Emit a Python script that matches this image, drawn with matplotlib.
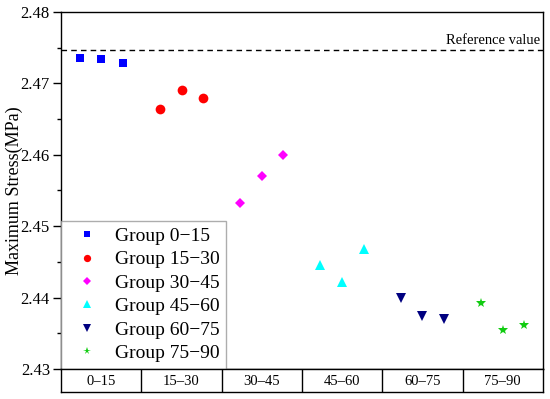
import numpy as np
import matplotlib.pyplot as plt

plt.rcParams['font.family'] = ['Liberation Serif', 'DejaVu Serif']

categories = ['0\u201315', '15\u201330', '30\u201345', '45\u201360', '60\u201375', '75\u201390']
group_labels = ['Group 0\u221215', 'Group 15\u221230', 'Group 30\u221245',
                'Group 45\u221260', 'Group 60\u221275', 'Group 75\u221290']
stress = [
    [2.4735, 2.4734, 2.4729],
    [2.4664, 2.4691, 2.4680],
    [2.4533, 2.4570, 2.4600],
    [2.4445, 2.4422, 2.4468],
    [2.4399, 2.4374, 2.4370],
    [2.4392, 2.4355, 2.4361],
]
reference_value = 2.4747

markers = ['s', 'o', 'D', '^', 'v', '*']
colors = ['#0000ff', '#ff0000', '#ff00ff', '#00ffff', '#000080', '#11cc11']
msizes = [6, 7, 5.5, 7, 7, 7.5]
offsets = [-0.27, 0.0, 0.27]

fig = plt.figure(figsize=(5.5, 3.99), dpi=100)
ax = fig.add_axes([0.111, 0.0752, 0.876, 0.895])
axb = fig.add_axes([0.111, 0.0175, 0.876, 0.0577])

for i, vals in enumerate(stress):
    xs = [i + o for o in offsets]
    ax.plot(xs, vals, linestyle='none', marker=markers[i], color=colors[i],
            markersize=msizes[i], markeredgewidth=0, label=group_labels[i])

ax.axhline(reference_value, color='black', linestyle=(0, (4, 3)), linewidth=1)
ax.text(5.47, reference_value + 0.0004, 'Reference value', ha='right', va='bottom', fontsize=10.5)

ax.set_xlim(-0.5, 5.5)
ax.set_ylim(2.43, 2.48)
ax.set_yticks(np.arange(2.43, 2.4801, 0.01))
ax.set_yticks(np.arange(2.435, 2.48, 0.01), minor=True)
ax.set_yticklabels(['%.2f' % v for v in np.arange(2.43, 2.4801, 0.01)], fontsize=12)
ax.set_xticks([])
ax.tick_params(axis='y', which='major', direction='out', length=6, width=1, pad=2)
ax.tick_params(axis='y', which='minor', direction='out', length=3, width=1)
ax.set_ylabel('Maximum Stress(MPa)', fontsize=13)
ax.yaxis.set_label_coords(-0.08, 0.5)
for s in ax.spines.values():
    s.set_linewidth(1)

leg = ax.legend(loc='lower left', bbox_to_anchor=(0, 0), borderaxespad=0,
                fontsize=14, markerscale=0.75, frameon=True, fancybox=False,
                handletextpad=0.4, labelspacing=0.3, borderpad=0.35,
                handlelength=2.0)
leg.get_frame().set_edgecolor('#999999')
leg.get_frame().set_linewidth(1)

# category boxes below the axis
axb.set_xlim(-0.5, 5.5)
axb.set_ylim(0, 1)
axb.set_xticks([])
axb.set_yticks([])
for s in axb.spines.values():
    s.set_linewidth(1)
for i in range(1, len(categories)):
    axb.axvline(i - 0.5, color='black', linewidth=1)
for i, c in enumerate(categories):
    axb.text(i, 0.45, c, ha='center', va='center', fontsize=10.5)

fig.savefig('out.png', dpi=100)
